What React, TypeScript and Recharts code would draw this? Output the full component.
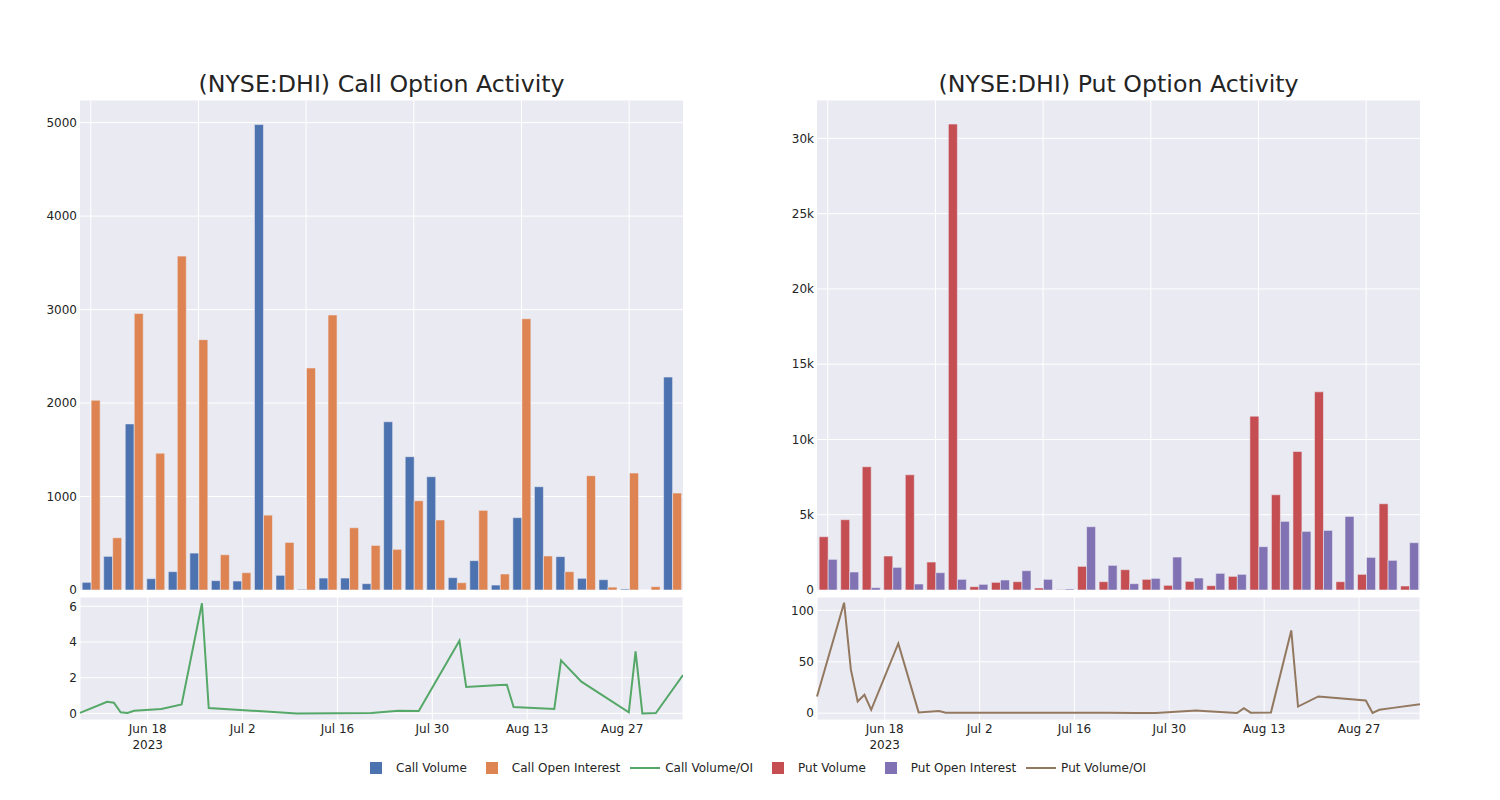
import React from 'react';
import { BarChart, Bar, LineChart, Line, XAxis, YAxis, CartesianGrid } from 'recharts';

const dates = [
  '2023-06-08', '2023-06-12', '2023-06-13', '2023-06-14', '2023-06-15', '2023-06-16', '2023-06-20',
  '2023-06-23', '2023-06-26', '2023-06-27', '2023-07-10', '2023-07-21', '2023-07-25', '2023-07-28',
  '2023-08-03', '2023-08-04', '2023-08-09', '2023-08-10', '2023-08-11', '2023-08-14', '2023-08-17',
  '2023-08-18', '2023-08-21', '2023-08-28', '2023-08-29', '2023-08-30', '2023-09-01', '2023-09-05',
];

const callVolume = [82, 360, 1777, 121, 196, 395, 100, 96, 4979, 157, 7, 128, 128, 68, 1800, 1426, 1212, 132, 314, 53, 774, 1105, 357, 125, 110, 10, 0, 2278];
const callOpenInterest = [2030, 559, 2959, 1464, 3572, 2678, 377, 185, 801, 509, 2375, 2942, 666, 477, 435, 955, 749, 78, 852, 171, 2902, 364, 196, 1223, 31, 1251, 36, 1037];
const callVolumeOI = [0.03, 0.65, 0.6, 0.06, 0.02, 0.15, 0.25, 0.5, 6.17, 0.3, 0, 0.02, 0.15, 0.13, 4.07, 1.48, 1.59, 1.6, 0.36, 0.3, 0.25, 2.97, 1.78, 0.06, 3.48, 0, 0.02, 2.15];

const putVolume = [3540, 4670, 8190, 2257, 7655, 1858, 30950, 221, 509, 553, 133, 20, 1570, 553, 1350, 708, 310, 575, 288, 907, 11550, 6327, 9204, 13164, 553, 1040, 5730, 265];
const putOpenInterest = [2035, 1195, 155, 1504, 400, 1150, 708, 376, 664, 1283, 708, 66, 4203, 1637, 420, 774, 2190, 796, 1106, 1040, 2876, 4558, 3894, 3960, 4889, 2168, 1969, 3142];
const putVolumeOI = [16.3, 107.5, 42.3, 11.4, 17.9, 3.3, 67.8, 0.8, 2.2, 0.5, 0.4, 0.4, 0.3, 0.3, 2.6, 2.2, 0.2, 4.9, 0.5, 0.8, 80.5, 6.5, 16.3, 12.4, 0.3, 3.3, 5.2, 8.8];

const dateTickValues = ['2023-06-18', '2023-07-02', '2023-07-16', '2023-07-30', '2023-08-13', '2023-08-27'];
const dateTickLabels = ['Jun 18', 'Jul 2', 'Jul 16', 'Jul 30', 'Aug 13', 'Aug 27'];
const yearLabel = '2023';

const callBarTicks = [0, 1000, 2000, 3000, 4000, 5000];
const putBarTicks = [0, 5000, 10000, 15000, 20000, 25000, 30000];
const callRatioTicks = [0, 2, 4, 6];
const putRatioTicks = [0, 50, 100];

const FONT = '"DejaVu Sans", Verdana, sans-serif';
const TXT = '#242424';
const BG = '#EAEAF2';
const COLORS = {
  callVolume: '#4C72B0',
  callOI: '#DD8452',
  callRatio: '#55A868',
  putVolume: '#C44E52',
  putOI: '#8172B3',
  putRatio: '#937860',
};

const ts = (d: string) => Date.parse(d + 'T00:00:00Z');
const tickTs = dateTickValues.map(ts);

const callRows = dates.map((d, i) => ({ date: d, t: ts(d), vol: callVolume[i], oi: callOpenInterest[i], ratio: callVolumeOI[i] }));
const putRows = dates.map((d, i) => ({ date: d, t: ts(d), vol: putVolume[i], oi: putOpenInterest[i], ratio: putVolumeOI[i] }));

const PLOT_W = 603;
const AXIS_W = 80;

const kFmt = (v: number) => (v === 0 ? '0' : `${v / 1000}k`);

function DateTick(props: any) {
  const { x, y, payload } = props;
  const idx = tickTs.indexOf(payload.value);
  const label = idx >= 0 ? dateTickLabels[idx] : '';
  return (
    <g>
      <text x={x} y={y + 13} textAnchor="middle" fill={TXT} fontSize={12} fontFamily={FONT}>
        {label}
      </text>
      {idx === 0 && (
        <text x={x} y={y + 29} textAnchor="middle" fill={TXT} fontSize={12} fontFamily={FONT}>
          {yearLabel}
        </text>
      )}
    </g>
  );
}

function BarPanel({ left, rows, colors, domain, ticks, fmt }: any) {
  const gridGen = ({ offset, width }: any) => {
    const w = offset.width ?? width - offset.left - offset.right;
    return rows
      .map((_: any, i: number) => i)
      .filter((i: number) => i % 5 === 0)
      .map((i: number) => offset.left + ((i + 0.5) * w) / rows.length);
  };
  return (
    <div style={{ position: 'absolute', left: left - AXIS_W, top: 100 }}>
      <BarChart
        width={AXIS_W + PLOT_W}
        height={500}
        data={rows}
        margin={{ top: 0, right: 0, bottom: 10, left: 0 }}
        barGap={0}
        barCategoryGap="10%"
        style={{ overflow: 'visible' }}
      >
        <CartesianGrid fill={BG} stroke="#ffffff" strokeWidth={1} verticalCoordinatesGenerator={gridGen} />
        <XAxis dataKey="date" height={0} tick={false} axisLine={false} tickLine={false} />
        <YAxis
          width={AXIS_W}
          domain={domain}
          ticks={ticks}
          interval={0}
          allowDataOverflow
          tickFormatter={fmt}
          axisLine={false}
          tickLine={false}
          tickSize={0}
          tickMargin={3}
          tick={{ fill: TXT, fontSize: 12, fontFamily: FONT }}
        />
        <Bar dataKey="vol" fill={colors[0]} stroke={BG} strokeWidth={0.6} isAnimationActive={false} />
        <Bar dataKey="oi" fill={colors[1]} stroke={BG} strokeWidth={0.6} isAnimationActive={false} />
      </BarChart>
    </div>
  );
}

function LinePanel({ left, rows, color, domain, ticks }: any) {
  return (
    <div style={{ position: 'absolute', left: left - AXIS_W, top: 597 }}>
      <LineChart width={AXIS_W + PLOT_W} height={166} data={rows} margin={{ top: 0, right: 0, bottom: 0, left: 0 }}>
        <CartesianGrid fill={BG} stroke="#ffffff" strokeWidth={1} />
        <XAxis
          dataKey="t"
          type="number"
          domain={['dataMin', 'dataMax']}
          ticks={tickTs}
          height={43}
          axisLine={false}
          tickLine={false}
          tickSize={0}
          tickMargin={0}
          interval={0}
          tick={<DateTick />}
        />
        <YAxis
          width={AXIS_W}
          domain={domain}
          ticks={ticks}
          interval={0}
          allowDataOverflow
          axisLine={false}
          tickLine={false}
          tickSize={0}
          tickMargin={3}
          tick={{ fill: TXT, fontSize: 12, fontFamily: FONT }}
        />
        <Line dataKey="ratio" stroke={color} strokeWidth={2} dot={false} isAnimationActive={false} />
      </LineChart>
    </div>
  );
}

const legendItems = [
  { name: 'Call Volume', color: COLORS.callVolume, kind: 'box' },
  { name: 'Call Open Interest', color: COLORS.callOI, kind: 'box' },
  { name: 'Call Volume/OI', color: COLORS.callRatio, kind: 'line' },
  { name: 'Put Volume', color: COLORS.putVolume, kind: 'box' },
  { name: 'Put Open Interest', color: COLORS.putOI, kind: 'box' },
  { name: 'Put Volume/OI', color: COLORS.putRatio, kind: 'line' },
];

function Legend() {
  return (
    <div
      style={{
        position: 'absolute',
        left: 356,
        top: 760,
        height: 16,
        display: 'flex',
        alignItems: 'center',
        fontFamily: FONT,
        fontSize: 12,
        color: TXT,
        whiteSpace: 'nowrap',
      }}
    >
      {legendItems.map((it) => (
        <div key={it.name} style={{ display: 'flex', alignItems: 'center', marginRight: 5 }}>
          <div style={{ position: 'relative', width: 40, height: 16 }}>
            {it.kind === 'box' ? (
              <div style={{ position: 'absolute', left: 14, top: 2, width: 12, height: 12, background: it.color }} />
            ) : (
              <div style={{ position: 'absolute', left: 5, top: 7, width: 30, height: 2, background: it.color }} />
            )}
          </div>
          <span style={{ lineHeight: '16px' }}>{it.name}</span>
        </div>
      ))}
    </div>
  );
}

function Title({ left, text }: any) {
  return (
    <div
      style={{
        position: 'absolute',
        left,
        top: 68,
        width: PLOT_W,
        textAlign: 'center',
        fontFamily: FONT,
        fontSize: 23.7,
        lineHeight: '32px',
        color: TXT,
        whiteSpace: 'nowrap',
      }}
    >
      {text}
    </div>
  );
}

export default function App() {
  return (
    <div style={{ position: 'absolute', left: 0, top: 0, width: 1500, height: 800, background: '#ffffff', overflow: 'hidden' }}>
      <Title left={80} text="(NYSE:DHI) Call Option Activity" />
      <Title left={817} text="(NYSE:DHI) Put Option Activity" />
      <BarPanel left={80} rows={callRows} colors={[COLORS.callVolume, COLORS.callOI]} domain={[0, 5242]} ticks={callBarTicks} />
      <BarPanel left={817} rows={putRows} colors={[COLORS.putVolume, COLORS.putOI]} domain={[0, 32550]} ticks={putBarTicks} fmt={kFmt} />
      <LinePanel left={80} rows={callRows} color={COLORS.callRatio} domain={[-0.37, 6.52]} ticks={callRatioTicks} />
      <LinePanel left={817} rows={putRows} color={COLORS.putRatio} domain={[-6.6, 113]} ticks={putRatioTicks} />
      <Legend />
    </div>
  );
}
